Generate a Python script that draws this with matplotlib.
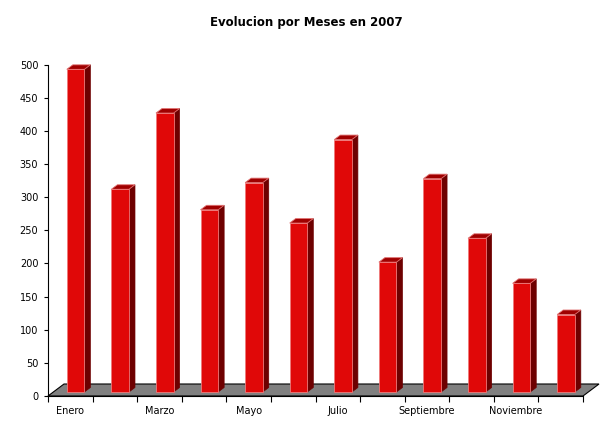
import numpy as np
import matplotlib
matplotlib.use("Agg")
from matplotlib import pyplot as plt

# datos
meses = ["Enero", "Febrero", "Marzo", "Abril", "Mayo", "Junio", "Julio",
         "Agosto", "Septiembre", "Octubre", "Noviembre", "Diciembre"]
valores = [493, 312, 427, 281, 322, 261, 387, 202, 328, 238, 170, 123]
yticks = [0, 50, 100, 150, 200, 250, 300, 350, 400, 450, 500]
titulo = "Evolucion por Meses en 2007"

W, H = 615, 430
plt.rcParams["font.family"] = "DejaVu Sans"

fig = plt.figure(figsize=(W / 100, H / 100), dpi=100)
# eje en pixeles: x 48..583, y 396..64.7
ax = fig.add_axes([48 / W, (H - 396) / H, (583 - 48) / W, (396 - 64.7) / H])
ax.set_xlim(0, 12)
ax.set_ylim(0, 500)

# conversion pixel -> unidades de datos
px_x = 12 / (583 - 48)
px_y = 500 / (396 - 64.7)

# suelo gris 3D
fdx, fdy = 16 * px_x, 12 * px_y
ax.fill([0, 12, 12 + fdx, fdx], [0, 0, fdy, fdy], facecolor="#808080",
        edgecolor="black", linewidth=0.8, clip_on=False, zorder=1)

# barras 3D
ancho = 0.395
off_x, off_y = 5.3 * px_x, 4 * px_y   # profundidad de la cara frontal
bdx, bdy = 6 * px_x, 4.5 * px_y       # profundidad de la barra
for i, v in enumerate(valores):
    x0 = i + 0.5 - ancho / 2 + off_x
    x1 = x0 + ancho
    y0 = off_y
    # cara lateral
    ax.fill([x1, x1 + bdx, x1 + bdx, x1], [y0, y0 + bdy, v + bdy, v],
            facecolor="#6e0000", edgecolor="#6e0000", linewidth=0.5,
            clip_on=False, zorder=3)
    # cara superior
    ax.fill([x0, x1, x1 + bdx, x0 + bdx], [v, v, v + bdy, v + bdy],
            facecolor="#a00000", edgecolor="#e07070", linewidth=0.6,
            clip_on=False, zorder=3)
    # cara frontal
    ax.fill([x0, x1, x1, x0], [y0, y0, v, v],
            facecolor="#e00808", edgecolor="#ee7a7a", linewidth=0.6,
            clip_on=False, zorder=4)

# ejes
for s in ["top", "right"]:
    ax.spines[s].set_visible(False)
ax.spines["left"].set_linewidth(0.8)
ax.spines["bottom"].set_linewidth(0.8)
ax.spines["bottom"].set_zorder(2)
ax.set_yticks(yticks)
ax.tick_params(axis="y", length=3, width=0.8, pad=4, labelsize=7)
ax.set_xticks(np.arange(13))
ax.set_xticklabels([])
ax.tick_params(axis="x", which="major", length=4, width=0.8)
ax.set_xticks(np.arange(12) + 0.5, minor=True)
ax.set_xticklabels([m if i % 2 == 0 else "" for i, m in enumerate(meses)],
                   minor=True)
ax.tick_params(axis="x", which="minor", length=0, pad=7.5, labelsize=7)

fig.text(306 / W, 1 - 22.5 / H, titulo, ha="center", va="center",
         fontsize=8.5, fontweight="bold")

fig.savefig("out.png", dpi=100)
